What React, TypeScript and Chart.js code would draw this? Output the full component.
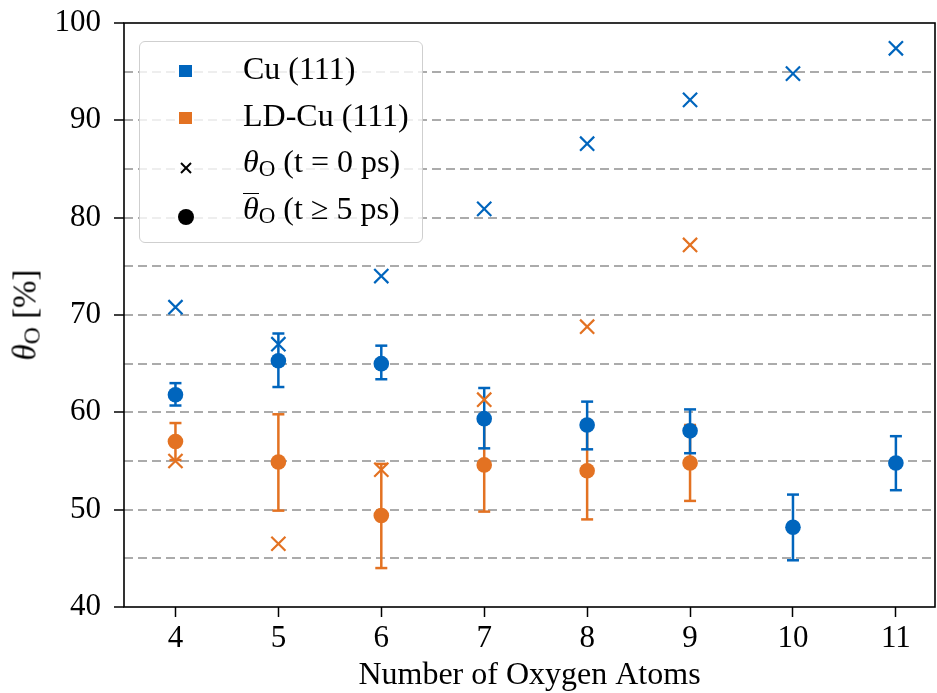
import React, { useEffect, useRef } from 'react';
import { Chart, registerables } from 'chart.js';

Chart.register(...registerables);

// ---- data ----
const atoms = [4, 5, 6, 7, 8, 9, 10, 11];
const cuInitial = [70.8, 67.0, 74.0, 80.9, 87.6, 92.1, 94.8, 97.4];
const cuMean = [61.8, 65.3, 65.0, 59.35, 58.7, 58.1, 48.2, 54.8];
const cuLow = [60.7, 62.6, 63.4, 56.3, 56.2, 55.8, 44.8, 52.0];
const cuHigh = [63.0, 68.1, 66.85, 62.5, 61.1, 60.3, 51.55, 57.55];

const ldAtoms = [4, 5, 6, 7, 8, 9];
const ldInitial = [55.0, 46.5, 54.1, 61.3, 68.8, 77.2];
const ldMean = [57.0, 54.9, 49.4, 54.6, 54.0, 54.8];
const ldLow = [55.1, 49.9, 44.0, 49.8, 49.0, 50.9];
const ldHigh = [58.9, 59.8, 54.7, 59.4, 59.0, 58.7];

const yTickLabels = [40, 50, 60, 70, 80, 90, 100];
const seriesNames = ['Cu (111)', 'LD-Cu (111)'];
const xTitle = 'Number of Oxygen Atoms';

const CU = '#0065BD';
const LD = '#E37222';
const FONT = "'Liberation Serif', 'Times New Roman', serif";

const pts = (xs: number[], ys: number[]) => xs.map((x, i) => ({ x, y: ys[i] }));
const bars = (xs: number[], lo: number[], hi: number[]) =>
  xs.flatMap((x, i) => [{ x, y: lo[i] }, { x, y: hi[i] }, { x, y: null as any }]);
const caps = (xs: number[], lo: number[], hi: number[]) =>
  xs.flatMap((x, i) => [{ x, y: lo[i] }, { x, y: hi[i] }]);

const framePlugin = {
  id: 'frame',
  afterDatasetsDraw(chart: any) {
    const { ctx, chartArea: a } = chart;
    ctx.save();
    ctx.strokeStyle = '#000';
    ctx.lineWidth = 1.6;
    ctx.strokeRect(a.left, a.top, a.right - a.left, a.bottom - a.top);
    ctx.restore();
  },
};

export default function App() {
  const ref = useRef<HTMLCanvasElement>(null);

  useEffect(() => {
    document.body.style.margin = '0';
    const errSet = (xs: number[], lo: number[], hi: number[], color: string, order: number) => [
      {
        type: 'scatter',
        data: caps(xs, lo, hi),
        pointStyle: 'line',
        pointRadius: 6,
        borderColor: color,
        backgroundColor: color,
        borderWidth: 2.5,
        order,
      },
      {
        type: 'line',
        data: bars(xs, lo, hi),
        borderColor: color,
        borderWidth: 2.5,
        pointRadius: 0,
        spanGaps: false,
        showLine: true,
        order: order + 1,
      },
    ];

    const chart = new Chart(ref.current!, {
      type: 'scatter',
      data: {
        datasets: [
          {
            data: pts(atoms, cuInitial),
            pointStyle: 'crossRot',
            pointRadius: 10,
            borderColor: CU,
            borderWidth: 2.2,
            order: 1,
          },
          {
            data: pts(ldAtoms, ldInitial),
            pointStyle: 'crossRot',
            pointRadius: 10,
            borderColor: LD,
            borderWidth: 2.2,
            order: 2,
          },
          {
            data: pts(atoms, cuMean),
            pointStyle: 'circle',
            pointRadius: 7.8,
            backgroundColor: CU,
            borderWidth: 0,
            order: 3,
          },
          ...(errSet(atoms, cuLow, cuHigh, CU, 4) as any[]),
          {
            data: pts(ldAtoms, ldMean),
            pointStyle: 'circle',
            pointRadius: 7.8,
            backgroundColor: LD,
            borderWidth: 0,
            order: 6,
          },
          ...(errSet(ldAtoms, ldLow, ldHigh, LD, 7) as any[]),
        ] as any,
      },
      options: {
        animation: false,
        responsive: true,
        maintainAspectRatio: false,
        events: [],
        layout: { autoPadding: false, padding: { top: 23, right: 2, left: 0, bottom: 0 } },
        plugins: { legend: { display: false }, tooltip: { enabled: false } },
        scales: {
          x: {
            type: 'linear',
            min: 3.5,
            max: 11.38,
            afterBuildTicks: (s: any) => {
              s.ticks = atoms.map((v) => ({ value: v }));
            },
            afterFit: (s: any) => {
              s.height = 86;
              s.paddingLeft = 0;
              s.paddingRight = 0;
            },
            ticks: {
              autoSkip: false,
              maxRotation: 0,
              padding: 3,
              color: '#000',
              font: { family: FONT, size: 31 },
              callback: (v: any) => String(v),
            },
            grid: {
              display: true,
              drawOnChartArea: false,
              drawTicks: true,
              tickLength: 10,
              tickWidth: 1.5,
              tickColor: '#000',
            },
            border: { display: false },
            title: {
              display: true,
              text: xTitle,
              color: '#000',
              font: { family: FONT, size: 32, lineHeight: 1 },
              padding: { top: 0, bottom: 1 },
            },
          },
          y: {
            type: 'linear',
            min: 40,
            max: 100,
            afterFit: (s: any) => {
              s.width = 124;
              s.paddingTop = 0;
              s.paddingBottom = 0;
            },
            ticks: {
              stepSize: 5,
              autoSkip: false,
              padding: 13,
              color: '#000',
              font: { family: FONT, size: 31 },
              callback: (v: any) => (yTickLabels.includes(Number(v)) ? String(v) : ''),
            },
            grid: {
              display: true,
              drawOnChartArea: true,
              drawTicks: true,
              tickLength: 10,
              tickWidth: 1.5,
              lineWidth: 2,
              color: (c: any) =>
                c.tick && (c.tick.value === 40 || c.tick.value === 100) ? 'rgba(0,0,0,0)' : '#ababab',
              tickColor: (c: any) =>
                c.tick && yTickLabels.includes(c.tick.value) ? '#000' : 'rgba(0,0,0,0)',
            },
            border: { display: false, dash: [9, 5] },
          },
        },
      } as any,
      plugins: [framePlugin],
    });
    return () => chart.destroy();
  }, []);

  const textStyle = (top: number): React.CSSProperties => ({
    position: 'absolute',
    left: 103,
    top,
    fontSize: 32,
    lineHeight: 1,
    whiteSpace: 'nowrap',
    color: '#000',
  });
  const markerStyle = (cy: number, w: number): React.CSSProperties => ({
    position: 'absolute',
    left: 45.5 - w / 2,
    top: cy - w / 2,
    width: w,
    height: w,
  });
  const sub: React.CSSProperties = { fontSize: '0.72em', position: 'relative', top: '0.17em' };

  return (
    <div
      style={{
        position: 'fixed',
        left: 0,
        top: 0,
        width: 937,
        height: 693,
        background: '#fff',
        fontFamily: FONT,
      }}
    >
      <canvas ref={ref} />
      {/* y axis title */}
      <div
        style={{
          position: 'absolute',
          left: 25,
          top: 315,
          transform: 'translate(-50%, -50%) rotate(-90deg)',
          fontSize: 33,
          lineHeight: 1,
          whiteSpace: 'nowrap',
          color: '#000',
        }}
      >
        <span style={{ fontStyle: 'italic' }}>θ</span>
        <span style={sub}>O</span> [%]
      </div>
      {/* legend */}
      <div
        style={{
          position: 'absolute',
          left: 139,
          top: 41,
          width: 284,
          height: 202,
          boxSizing: 'border-box',
          border: '1.5px solid #cfcfcf',
          borderRadius: 6,
          background: 'rgba(255,255,255,0.8)',
        }}
      >
        <div style={{ ...markerStyle(29, 12.5), background: CU }} />
        <div style={textStyle(37 - 27)}>{seriesNames[0]}</div>
        <div style={{ ...markerStyle(76, 12.5), background: LD }} />
        <div style={textStyle(84 - 27)}>{seriesNames[1]}</div>
        <svg style={markerStyle(125.7, 12)} width={12} height={12} viewBox="0 0 12 12">
          <line x1={1} y1={1} x2={11} y2={11} stroke="#000" strokeWidth={2} />
          <line x1={11} y1={1} x2={1} y2={11} stroke="#000" strokeWidth={2} />
        </svg>
        <div style={textStyle(130 - 27)}>
          <span style={{ fontStyle: 'italic' }}>θ</span>
          <span style={sub}>O</span> (t = 0 ps)
        </div>
        <div style={{ ...markerStyle(174.6, 16), background: '#000', borderRadius: '50%' }} />
        <div style={textStyle(177 - 27)}>
          <span
            style={{
              fontStyle: 'italic',
              display: 'inline-block',
              borderTop: '1.6px solid #000',
              lineHeight: 0.92,
            }}
          >
            θ
          </span>
          <span style={sub}>O</span> (t ≥ 5 ps)
        </div>
      </div>
    </div>
  );
}
